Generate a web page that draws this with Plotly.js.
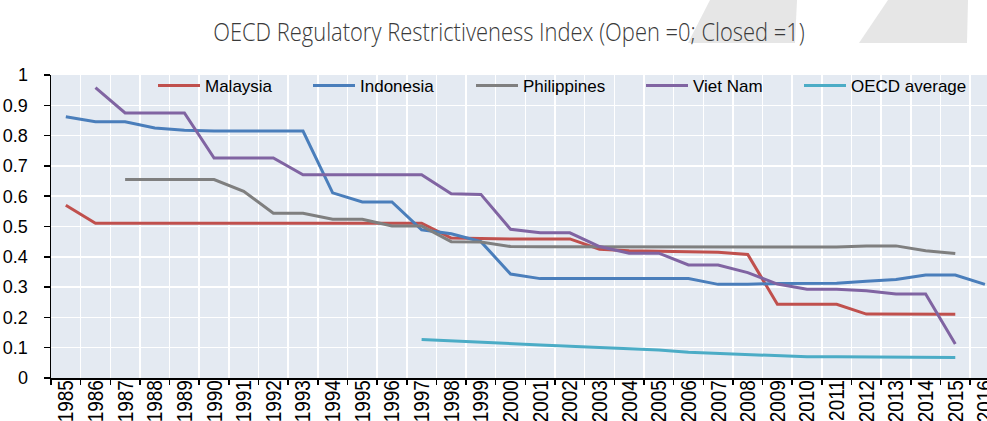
<!DOCTYPE html>
<html>
<head>
<meta charset="utf-8">
<script src="https://cdn.plot.ly/plotly-3.0.1.min.js"></script>
<style>
  html, body { margin: 0; padding: 0; background: #ffffff; }
  #chart { width: 987px; height: 421px; }
</style>
</head>
<body>
<div id="chart"></div>
<script>
const years = ['1985','1986','1987','1988','1989','1990','1991','1992','1993','1994','1995','1996','1997','1998','1999','2000','2001','2002','2003','2004','2005','2006','2007','2008','2009','2010','2011','2012','2013','2014','2015','2016'];

const malaysia = [0.570,0.511,0.511,0.511,0.511,0.511,0.511,0.511,0.511,0.511,0.511,0.511,0.511,0.462,0.460,0.459,0.459,0.459,0.425,0.420,0.418,0.416,0.415,0.408,0.243,0.243,0.243,0.211,0.211,0.211,0.210,null];
const indonesia = [0.862,0.846,0.846,0.825,0.818,0.815,0.815,0.815,0.815,0.611,0.581,0.581,0.489,0.476,0.450,0.343,0.328,0.328,0.328,0.328,0.328,0.328,0.309,0.309,0.312,0.313,0.313,0.319,0.325,0.340,0.340,0.309];
const philippines = [null,null,0.655,0.655,0.655,0.655,0.616,0.544,0.544,0.524,0.524,0.502,0.502,0.450,0.449,0.434,0.433,0.433,0.433,0.432,0.432,0.432,0.432,0.432,0.432,0.432,0.432,0.436,0.436,0.420,0.411,null];
const vietnam = [null,0.958,0.875,0.875,0.875,0.726,0.726,0.726,0.671,0.671,0.671,0.671,0.671,0.608,0.606,0.491,0.479,0.479,0.434,0.412,0.412,0.373,0.373,0.348,0.310,0.293,0.293,0.288,0.277,0.277,0.112,null];
const oecd = [null,null,null,null,null,null,null,null,null,null,null,null,0.127,0.122,0.118,0.114,0.109,0.105,0.101,0.097,0.092,0.085,0.081,0.076,0.073,0.070,0.070,0.069,0.068,0.068,0.068,null];

const seriesNames = ['Malaysia','Indonesia','Philippines','Viet Nam','OECD average'];
const seriesValues = [malaysia, indonesia, philippines, vietnam, oecd];
const seriesColors = ['#c0504d','#4a7ebb','#7f7f7f','#8064a2','#4bacc6'];

const sans = '"Liberation Sans", Arial, sans-serif';
const titleFont = '"Open Sans", "Liberation Sans", sans-serif';

// plot area geometry (for legend / decorative shapes in paper coords)
const L = 51, R = 987, T = 75, B = 378;
const px = v => (v - L) / (R - L);
const py = v => (B - v) / (B - T);

const legendIds = ['legend', 'legend2', 'legend3', 'legend4', 'legend5'];
const legendLineStarts = [158, 313, 476, 646, 804];

const traces = seriesNames.map((n, i) => ({
  type: 'scatter',
  mode: 'lines',
  name: n,
  x: years,
  y: seriesValues[i],
  line: { color: seriesColors[i], width: 3 },
  connectgaps: false,
  legend: legendIds[i],
  hoverinfo: 'x+y+name'
}));

const layout = {
  width: 987,
  height: 421,
  margin: { l: L, r: 987 - R, t: T, b: 421 - B, pad: 0 },
  paper_bgcolor: '#ffffff',
  plot_bgcolor: '#e4eaf2',
  showlegend: true,
  title: {
    text: 'OECD Regulatory Restrictiveness Index (Open =0; Closed =1)',
    font: { family: titleFont, size: 26, weight: 300, color: '#3a3a3a' },
    x: px(509), xref: 'paper', xanchor: 'center',
    y: 1 - 32 / 421, yref: 'container', yanchor: 'middle'
  },
  xaxis: {
    type: 'category',
    range: [-0.5, 31.07],
    tickson: 'boundaries',
    ticks: 'outside',
    ticklen: 5,
    tickwidth: 1.5,
    tickcolor: '#000000',
    showline: true,
    linecolor: '#000000',
    linewidth: 1.5,
    showgrid: true,
    gridcolor: '#ffffff',
    gridwidth: 1.5,
    tickangle: -90,
    tickfont: { family: sans, size: 19, color: '#000000' },
    ticklabelstandoff: -7,
    automargin: false,
    zeroline: false,
    fixedrange: true
  },
  yaxis: {
    range: [0, 1],
    dtick: 0.1,
    tick0: 0,
    ticks: 'outside',
    ticklen: 6,
    tickwidth: 1.5,
    tickcolor: '#000000',
    showline: true,
    linecolor: '#000000',
    linewidth: 1.5,
    showgrid: true,
    gridcolor: '#ffffff',
    gridwidth: 1.5,
    zeroline: false,
    tickfont: { family: sans, size: 18, color: '#000000' },
    ticklabelstandoff: 12,
    automargin: false,
    fixedrange: true
  },
  shapes: [
    { type: 'path', xref: 'paper', yref: 'paper', layer: 'below',
      path: `M ${px(710)} ${py(0)} L ${px(797)} ${py(0)} L ${px(795)} ${py(43)} L ${px(688)} ${py(43)} Z`,
      fillcolor: '#e6e6e6', line: { width: 0 } },
    { type: 'path', xref: 'paper', yref: 'paper', layer: 'below',
      path: `M ${px(888)} ${py(0)} L ${px(968)} ${py(0)} L ${px(967)} ${py(43)} L ${px(859)} ${py(43)} Z`,
      fillcolor: '#e6e6e6', line: { width: 0 } }
  ]
};

legendIds.forEach((id, i) => {
  layout[id] = {
    orientation: 'h',
    x: px(legendLineStarts[i] - 5), xanchor: 'left',
    y: py(86), yanchor: 'middle',
    bgcolor: 'rgba(0,0,0,0)',
    borderwidth: 0,
    font: { family: sans, size: 17, color: '#000000' },
    itemwidth: 42
  };
});

Plotly.newPlot('chart', traces, layout, { displayModeBar: false, staticPlot: true }).then(gd => {
  // the reference title uses a condensed face: compress the real text horizontally to its width
  const t = gd.querySelector('.gtitle');
  if (t && t.getBBox) {
    const bb = t.getBBox();
    const targetW = 592;
    if (bb.width > 0) {
      const s = targetW / bb.width;
      const cx = bb.x + bb.width / 2;
      t.setAttribute('transform', `translate(${cx},0) scale(${s},1) translate(${-cx},0)`);
    }
  }
  // the reference's rotated year labels have wider glyphs: widen each label across the axis,
  // about its own centre (scaling in the label's own frame, before its rotation)
  gd.querySelectorAll('.xtick text').forEach(el => {
    const prev = el.getAttribute('transform') || '';
    const bb = el.getBBox();
    const cy = bb.y + bb.height / 2;
    el.setAttribute('transform', `${prev} translate(0,${cy}) scale(1,1.2) translate(0,${-cy})`);
  });
});
</script>
</body>
</html>
